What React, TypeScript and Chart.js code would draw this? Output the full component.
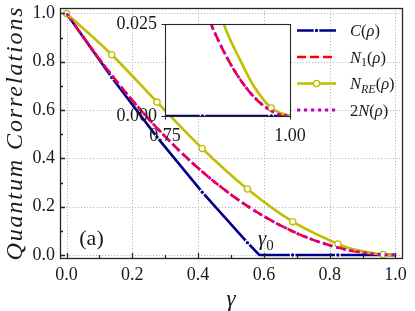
import React, { useEffect, useRef } from 'react';
import { Chart, registerables } from 'chart.js';

Chart.register(...registerables);

// ---------------- data ----------------
const gammaC = [0, 0.1375, 0.275, 0.4125, 0.55, 0.586, 0.6875, 0.825, 0.9625, 1.0];
const concurrence = [1.0, 0.735, 0.488, 0.26, 0.051, 0, 0, 0, 0, 0];

const gammaN = [0, 0.1, 0.2, 0.3, 0.4, 0.5, 0.6, 0.7, 0.75, 0.8, 0.825, 0.85, 0.875, 0.9, 0.925, 0.95, 0.975, 1.0];
const negativityN1 = [1.0, 0.81, 0.64, 0.49, 0.36, 0.25, 0.16, 0.09, 0.0625, 0.04, 0.0306, 0.0225, 0.0156, 0.01, 0.0056, 0.0025, 0.0006, 0];
const negativity2N = [1.0, 0.81, 0.64, 0.49, 0.36, 0.25, 0.16, 0.09, 0.0625, 0.04, 0.0306, 0.0225, 0.0156, 0.01, 0.0056, 0.0025, 0.0006, 0];

const gammaRE = [0, 0.1375, 0.275, 0.4125, 0.55, 0.6875, 0.825, 0.85, 0.875, 0.9, 0.925, 0.95, 0.9625, 0.975, 1.0];
const negativityRE = [1.0, 0.829, 0.633, 0.441, 0.273, 0.138, 0.0455, 0.032, 0.0224, 0.0153, 0.0087, 0.0039, 0.0022, 0.0012, 0];

const markerGamma = [0, 0.1375, 0.275, 0.4125, 0.55, 0.6875, 0.825, 0.9625];

const xMajorTicks = [0, 0.2, 0.4, 0.6, 0.8, 1.0];
const xMinorTicks = [0.1, 0.3, 0.5, 0.7, 0.9];
const yMajorTicks = [0, 0.2, 0.4, 0.6, 0.8, 1.0];
const yMinorTicks = [0.1, 0.3, 0.5, 0.7, 0.9];
const insetXTicks = [0.75, 1.0];
const insetYTicks = [0, 0.025];

// ---------------- styling ----------------
const SERIF = '"Liberation Serif", "Times New Roman", serif';
const NAVY = '#00008b';
const RED = '#ff0000';
const OLIVE = '#bfbf00';
const MAGENTA = '#c000c0';
const LW = 2.6;
const RED_DASH = [9, 4];
const MAG_DASH = [3.2, 3.8];
const TEXT = '#1a1a1a';

type Piece = [string, boolean, boolean]; // text, italic, subscript

function drawPieces(ctx: CanvasRenderingContext2D, pieces: Piece[], x: number, y: number, size: number) {
  let cx = x;
  for (const [t, it, sub] of pieces) {
    const s = sub ? Math.round(size * 0.7) : size;
    ctx.font = `${it ? 'italic ' : ''}${s}px ${SERIF}`;
    ctx.fillText(t, cx, sub ? y + size * 0.24 : y);
    cx += ctx.measureText(t).width;
  }
}

const pts = (xs: number[], ys: number[]) => xs.map((x, i) => ({ x, y: ys[i] }));
const isMarker = (c: any) => c && c.raw && markerGamma.includes(c.raw.x);

function makeDatasets(): any[] {
  return [
    {
      label: 'C(ρ)', data: pts(gammaC, concurrence), borderColor: NAVY, backgroundColor: NAVY,
      borderWidth: LW, tension: 0, order: 4,
      pointRadius: (c: any) => (isMarker(c) ? 2.3 : 0), pointHoverRadius: 0,
      pointBackgroundColor: NAVY, pointBorderColor: '#ffffff', pointBorderWidth: 1.2,
    },
    {
      label: 'N1(ρ)', data: pts(gammaN, negativityN1), borderColor: RED, backgroundColor: RED,
      borderWidth: LW, borderDash: RED_DASH, cubicInterpolationMode: 'monotone', order: 3,
      pointRadius: 0, pointHoverRadius: 0,
    },
    {
      label: 'NRE(ρ)', data: pts(gammaRE, negativityRE), borderColor: OLIVE, backgroundColor: OLIVE,
      borderWidth: LW, cubicInterpolationMode: 'monotone', order: 2,
      pointRadius: (c: any) => (isMarker(c) ? 3.1 : 0), pointHoverRadius: 0,
      pointBackgroundColor: '#ffffff', pointBorderColor: OLIVE, pointBorderWidth: 1.3,
    },
    {
      label: '2N(ρ)', data: pts(gammaN, negativity2N), borderColor: MAGENTA, backgroundColor: MAGENTA,
      borderWidth: 2.8, borderDash: MAG_DASH, cubicInterpolationMode: 'monotone', order: 1,
      pointRadius: 0, pointHoverRadius: 0,
    },
  ];
}

const mainDecor = {
  id: 'mainDecor',
  beforeDatasetsDraw(chart: any) {
    const { ctx, chartArea: a } = chart;
    const xs = chart.scales.x, ys = chart.scales.y;
    ctx.save();
    ctx.strokeStyle = '#b4b4b4';
    ctx.lineWidth = 0.9;
    ctx.setLineDash([1.2, 1.8]);
    ctx.beginPath();
    for (const v of xMajorTicks) {
      const p = Math.round(xs.getPixelForValue(v)) + 0.5;
      ctx.moveTo(p, a.top); ctx.lineTo(p, a.bottom);
    }
    for (const v of yMajorTicks) {
      const p = Math.round(ys.getPixelForValue(v)) + 0.5;
      ctx.moveTo(a.left, p); ctx.lineTo(a.right, p);
    }
    ctx.stroke();
    ctx.restore();
  },
  afterDatasetsDraw(chart: any) {
    const { ctx, chartArea: a } = chart;
    const xs = chart.scales.x, ys = chart.scales.y;
    ctx.save();
    ctx.strokeStyle = '#262626';
    ctx.lineWidth = 1.3;
    ctx.beginPath();
    const tick = (vals: number[], len: number, horiz: boolean) => {
      for (const v of vals) {
        if (horiz) {
          const p = Math.round(xs.getPixelForValue(v)) + 0.5;
          ctx.moveTo(p, a.bottom); ctx.lineTo(p, a.bottom - len);
        } else {
          const p = Math.round(ys.getPixelForValue(v)) + 0.5;
          ctx.moveTo(a.left, p); ctx.lineTo(a.left + len, p);
        }
      }
    };
    tick(xMajorTicks, 5, true);
    tick(xMinorTicks, 3, true);
    tick(yMajorTicks, 5, false);
    tick(yMinorTicks, 3, false);
    ctx.stroke();
    ctx.strokeRect(Math.round(a.left) + 0.5, Math.round(a.top) + 0.5, Math.round(a.width), Math.round(a.height));
    ctx.restore();
  },
  afterDraw(chart: any) {
    const { ctx, chartArea: a } = chart;
    ctx.save();
    ctx.fillStyle = TEXT;
    // y axis title
    ctx.save();
    ctx.translate(16, (a.top + a.bottom) / 2);
    ctx.rotate(-Math.PI / 2);
    ctx.font = `italic 24px ${SERIF}`;
    (ctx as any).letterSpacing = '1.9px';
    ctx.textAlign = 'center';
    ctx.textBaseline = 'middle';
    ctx.fillText('Quantum Correlations', 0, 0);
    ctx.restore();
    (ctx as any).letterSpacing = '0px';
    // x axis title
    ctx.font = `italic 23px ${SERIF}`;
    ctx.textAlign = 'center';
    ctx.textBaseline = 'alphabetic';
    ctx.fillText('γ', (a.left + a.right) / 2, 306);
    // panel label
    ctx.font = `22px ${SERIF}`;
    ctx.fillText('(a)', 91.5, 245);
    // gamma_0 annotation
    ctx.textAlign = 'left';
    drawPieces(ctx, [['γ', true, false], ['0', false, true]], 258, 245, 21);

    // legend
    const x0 = 297, x1 = 336, tx = 350;
    const rows = [30.5, 57, 83.5, 110];
    const entries: { color: string; dash: number[]; width: number; marker: 'dot' | 'ring' | null; pieces: Piece[] }[] = [
      { color: NAVY, dash: [], width: LW, marker: 'dot', pieces: [['C', true, false], ['(', false, false], ['ρ', true, false], [')', false, false]] },
      { color: RED, dash: RED_DASH, width: LW, marker: null, pieces: [['N', true, false], ['1', false, true], ['(', false, false], ['ρ', true, false], [')', false, false]] },
      { color: OLIVE, dash: [], width: LW, marker: 'ring', pieces: [['N', true, false], ['RE', true, true], ['(', false, false], ['ρ', true, false], [')', false, false]] },
      { color: MAGENTA, dash: MAG_DASH, width: 2.8, marker: null, pieces: [['2', false, false], ['N', true, false], ['(', false, false], ['ρ', true, false], [')', false, false]] },
    ];
    entries.forEach((e, i) => {
      const y = rows[i];
      ctx.save();
      ctx.strokeStyle = e.color;
      ctx.lineWidth = e.width;
      ctx.setLineDash(e.dash);
      ctx.beginPath();
      ctx.moveTo(x0, y); ctx.lineTo(x1, y);
      ctx.stroke();
      ctx.setLineDash([]);
      const mx = (x0 + x1) / 2;
      if (e.marker === 'dot') {
        ctx.beginPath(); ctx.arc(mx, y, 2.3, 0, Math.PI * 2);
        ctx.fillStyle = NAVY; ctx.fill();
        ctx.lineWidth = 1.2; ctx.strokeStyle = '#ffffff'; ctx.stroke();
      } else if (e.marker === 'ring') {
        ctx.beginPath(); ctx.arc(mx, y, 3.1, 0, Math.PI * 2);
        ctx.fillStyle = '#ffffff'; ctx.fill();
        ctx.lineWidth = 1.3; ctx.strokeStyle = OLIVE; ctx.stroke();
      }
      ctx.restore();
      ctx.fillStyle = TEXT;
      ctx.textAlign = 'left';
      ctx.textBaseline = 'alphabetic';
      drawPieces(ctx, e.pieces, tx, y + 5.5, 16.5);
    });
    ctx.restore();
  },
};

const insetDecor = {
  id: 'insetDecor',
  beforeDatasetsDraw(chart: any) {
    const { ctx, chartArea: a } = chart;
    ctx.save();
    ctx.fillStyle = '#ffffff';
    ctx.fillRect(a.left, a.top, a.width, a.height);
    ctx.restore();
  },
  afterDatasetsDraw(chart: any) {
    const { ctx, chartArea: a } = chart;
    const xs = chart.scales.x, ys = chart.scales.y;
    ctx.save();
    ctx.strokeStyle = '#262626';
    ctx.lineWidth = 1.1;
    ctx.beginPath();
    for (const v of insetYTicks) {
      const p = Math.round(ys.getPixelForValue(v)) + 0.5;
      ctx.moveTo(a.left, p); ctx.lineTo(a.left - 3.5, p);
    }
    for (const v of insetXTicks) {
      const p = Math.round(xs.getPixelForValue(v)) + 0.5;
      ctx.moveTo(p, a.bottom); ctx.lineTo(p, a.bottom + 3.5);
    }
    ctx.stroke();
    ctx.strokeRect(Math.round(a.left) + 0.5, Math.round(a.top) + 0.5, Math.round(a.width), Math.round(a.height));
    ctx.restore();
  },
};

function tickFont() {
  return { family: SERIF, size: 18 };
}

const fixX = (h: number) => (s: any) => { s.height = h; s.paddingLeft = 0; s.paddingRight = 0; };
const fixY = (w: number) => (s: any) => { s.width = w; s.paddingTop = 0; s.paddingBottom = 0; };

export default function App() {
  const mainRef = useRef<HTMLCanvasElement | null>(null);
  const insetRef = useRef<HTMLCanvasElement | null>(null);

  useEffect(() => {
    if (!mainRef.current || !insetRef.current) return;
    const main = new Chart(mainRef.current, {
      type: 'line',
      data: { datasets: makeDatasets() },
      options: {
        responsive: false,
        animation: false,
        events: [],
        layout: { padding: { top: 8, right: 13, left: 0, bottom: 0 } },
        plugins: { legend: { display: false }, tooltip: { enabled: false } },
        scales: {
          x: {
            type: 'linear', min: -0.02, max: 1.02,
            afterBuildTicks: (s: any) => { s.ticks = xMajorTicks.map((v) => ({ value: v })); },
            afterFit: fixX(53),
            grid: { display: false, drawTicks: false },
            border: { display: false },
            ticks: {
              padding: 6, font: tickFont(), color: TEXT, autoSkip: false, maxRotation: 0,
              callback: (v: any) => Number(v).toFixed(1),
            },
          },
          y: {
            type: 'linear', min: -0.0125, max: 1.0225,
            afterBuildTicks: (s: any) => { s.ticks = yMajorTicks.map((v) => ({ value: v })); },
            afterFit: fixY(60),
            grid: { display: false, drawTicks: false },
            border: { display: false },
            ticks: {
              padding: 5, font: tickFont(), color: TEXT, autoSkip: false,
              callback: (v: any) => Number(v).toFixed(1),
            },
          },
        },
      } as any,
      plugins: [mainDecor],
    });

    const inset = new Chart(insetRef.current, {
      type: 'line',
      data: { datasets: makeDatasets() },
      options: {
        responsive: false,
        animation: false,
        events: [],
        layout: { padding: { top: 14, right: 35, left: 0, bottom: 0 } },
        plugins: { legend: { display: false }, tooltip: { enabled: false } },
        scales: {
          x: {
            type: 'linear', min: 0.75, max: 1.0,
            afterBuildTicks: (s: any) => { s.ticks = insetXTicks.map((v) => ({ value: v })); },
            afterFit: fixX(30),
            grid: { display: false, drawTicks: false },
            border: { display: false },
            ticks: {
              padding: 9, font: tickFont(), color: TEXT, autoSkip: false, maxRotation: 0,
              callback: (v: any) => Number(v).toFixed(2),
            },
          },
          y: {
            type: 'linear', min: 0, max: 0.025,
            afterBuildTicks: (s: any) => { s.ticks = insetYTicks.map((v) => ({ value: v })); },
            afterFit: fixY(65),
            grid: { display: false, drawTicks: false },
            border: { display: false },
            ticks: {
              padding: 8, font: tickFont(), color: TEXT, autoSkip: false,
              callback: (v: any) => Number(v).toFixed(3),
            },
          },
        },
      } as any,
      plugins: [insetDecor],
    });

    return () => {
      main.destroy();
      inset.destroy();
    };
  }, []);

  return (
    <div style={{ position: 'fixed', left: 0, top: 0, width: 415, height: 311, background: '#ffffff', overflow: 'hidden' }}>
      <canvas ref={mainRef} width={415} height={311} style={{ position: 'absolute', left: 0, top: 0, width: 415, height: 311 }} />
      <canvas ref={insetRef} width={225} height={136} style={{ position: 'absolute', left: 100, top: 10, width: 225, height: 136 }} />
    </div>
  );
}
